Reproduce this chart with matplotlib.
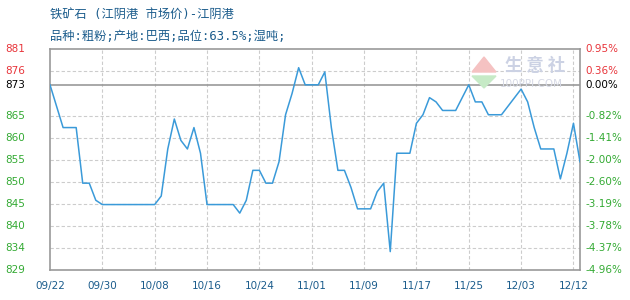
"""Iron ore price at Jiangyin port, daily line chart (100ppi style)."""

import matplotlib
matplotlib.use("Agg")
import matplotlib.pyplot as plt
import matplotlib.transforms as mtransforms
from matplotlib.patches import Polygon

plt.rcParams["font.family"] = ["Noto Sans CJK SC", "DejaVu Sans"]

title = "铁矿石 (江阴港 市场价)-江阴港"
subtitle = "品种:粗粉;产地:巴西;品位:63.5%;湿吨;"

# one value per day, 09/22 .. 12/13
prices = [
    873, 868, 863, 863, 863, 850, 850, 846, 845, 845,
    845, 845, 845, 845, 845, 845, 845, 847, 858, 865,
    860, 858, 863, 857, 845, 845, 845, 845, 845, 843,
    846, 853, 853, 850, 850, 855, 866, 871, 877, 873,
    873, 873, 876, 863, 853, 853, 849, 844, 844, 844,
    848, 850, 834, 857, 857, 857, 864, 866, 870, 869,
    867, 867, 867, 870, 873, 869, 869, 866, 866, 866,
    868, 870, 872, 869, 863, 858, 858, 858, 851, 857,
    864, 855,
]
date_labels = ["09/22", "09/30", "10/08", "10/16", "10/24", "11/01",
               "11/09", "11/17", "11/25", "12/03", "12/12"]
ref_price = 873
y_low, y_high = 829.7, 881.3

W, H = 630, 300
fig = plt.figure(figsize=(W / 100, H / 100), dpi=100)
ax = fig.add_axes([50 / W, 30 / H, 530 / W, 220.7 / H])

x = list(range(len(prices)))
ax.set_xlim(0, len(prices) - 1)
ax.set_ylim(y_low, y_high)

grid_c = "#cccccc"
frame_c = "#999999"
blue_txt = "#1b5c8c"
mixed = ["DejaVu Sans Mono", "Noto Sans CJK SC"]

# horizontal grid, evenly spaced; the one nearest the reference line is dropped
step = (y_high - y_low) / 10
levels = [y_low + step * i for i in range(11)]
lab_tr = mtransforms.blended_transform_factory(fig.transFigure, ax.transData)
for lv in levels:
    if abs(lv - ref_price) < step * 0.5:
        continue
    if y_low < lv < y_high:
        ax.axhline(lv, color=grid_c, lw=0.8, ls=(0, (3, 2)), zorder=1)
    col = "#e8343a" if lv > ref_price else "#33aa33"
    ax.text(5 / W, lv, "%d" % int(lv), transform=lab_tr, color=col,
            fontsize=7.5, ha="left", va="center", family="DejaVu Sans")
    pct = (lv - ref_price) / ref_price * 100
    ax.text(585 / W, lv, "%.2f%%" % pct, transform=lab_tr, color=col,
            fontsize=7.5, ha="left", va="center", family="DejaVu Sans")

ax.axhline(ref_price, color=frame_c, lw=1.2, zorder=2)
ax.text(5 / W, ref_price, "%d" % ref_price, transform=lab_tr, color="black",
        fontsize=7.5, ha="left", va="center", family="DejaVu Sans")
ax.text(585 / W, ref_price, "0.00%", transform=lab_tr, color="black",
        fontsize=7.5, ha="left", va="center", family="DejaVu Sans")

# vertical grid every 8 points
tick_pos = list(range(0, 8 * len(date_labels), 8))
for t in tick_pos[1:]:
    ax.axvline(t, color=grid_c, lw=0.8, ls=(0, (3, 2)), zorder=1)
ax.set_xticks(tick_pos)
ax.set_xticklabels(date_labels, color=blue_txt, fontsize=7.5, family="DejaVu Sans")
ax.tick_params(axis="x", length=0, pad=8)
ax.set_yticks([])

for s in ax.spines.values():
    s.set_color(frame_c)
    s.set_linewidth(1.2)

ax.plot(x, prices, color="#3a9ad9", lw=1.1, zorder=3)

# watermark
fig.text(505 / W, 1 - 66 / H, "生 意 社", color="#ccd2e4", fontsize=12.5,
         ha="left", va="center", fontweight="bold")
fig.text(500 / W, 1 - 84 / H, "100PPI.COM", color="#d6d9e5", fontsize=7.5,
         ha="left", va="center", family="DejaVu Sans")
fig.patches.append(Polygon([[472 / W, 1 - 72 / H], [484 / W, 1 - 57 / H],
                            [496 / W, 1 - 72 / H]], closed=True,
                           transform=fig.transFigure, color="#f5c2c2"))
fig.patches.append(Polygon([[472 / W, 1 - 76 / H], [484 / W, 1 - 88 / H],
                            [496 / W, 1 - 76 / H]], closed=True,
                           transform=fig.transFigure, color="#c6eac6"))

fig.text(50 / W, 1 - 14 / H, title, color=blue_txt, fontsize=8.8,
         ha="left", va="center", family=mixed)
fig.text(50 / W, 1 - 36 / H, subtitle, color=blue_txt, fontsize=8.8,
         ha="left", va="center", family=mixed)

fig.savefig("out.png", dpi=100, facecolor="white")
